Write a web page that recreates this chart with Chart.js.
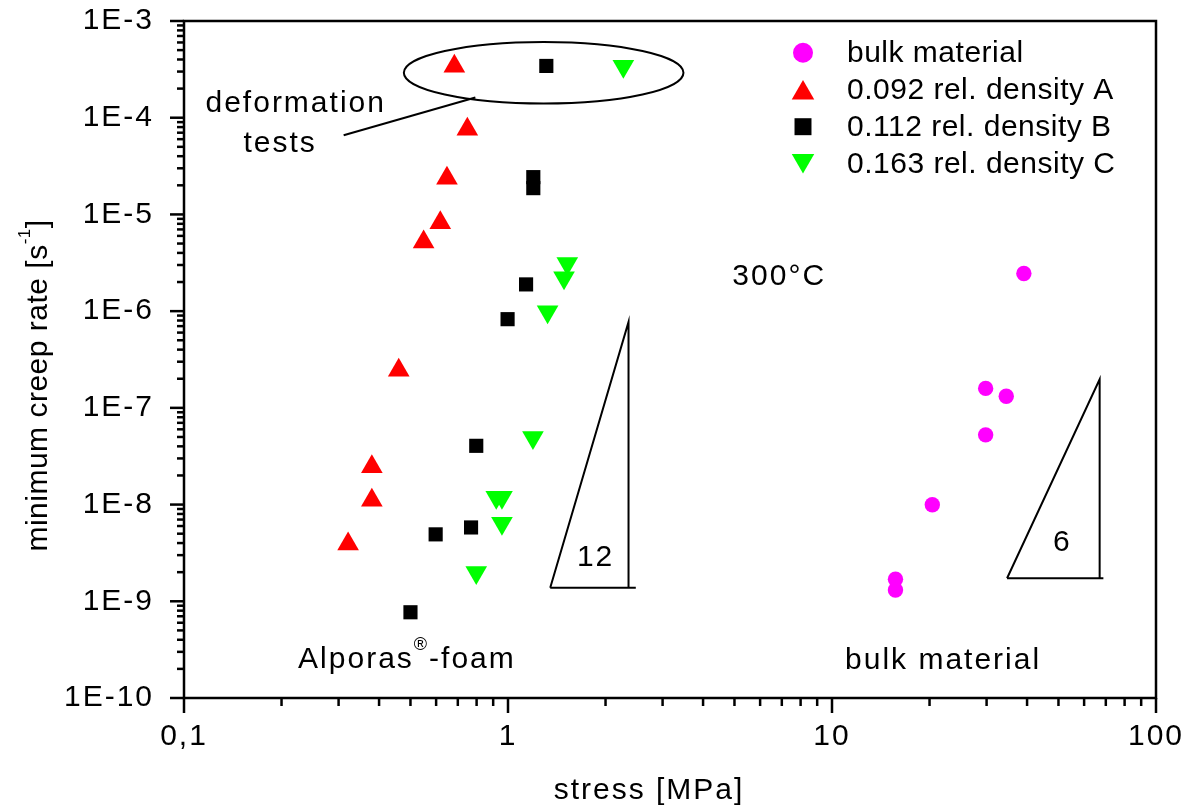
<!DOCTYPE html>
<html>
<head>
<meta charset="utf-8">
<script src="https://cdn.jsdelivr.net/npm/chart.js@4.4.1/dist/chart.umd.min.js"></script>
<style>
    html, body { margin: 0; padding: 0; background: #fff; }
    #wrap { width: 1189px; height: 807px; position: relative; }
</style>
</head>
<body>
<div id="wrap"><canvas id="creep-chart"></canvas></div>
<script>
/* Minimum creep rate vs. stress, Alporas foam and bulk material at 300°C */

// stress [MPa] / minimum creep rate [1/s]
const bulkStress = [39.1, 29.8, 34.5, 29.8, 20.4, 15.7, 15.7];
const bulkRate = [2.45e-6, 1.59e-7, 1.32e-7, 5.26e-8, 9.95e-9, 1.69e-9, 1.31e-9];

const foamAStress = [0.683, 0.749, 0.648, 0.618, 0.549, 0.460, 0.380, 0.380, 0.321];
const foamARate = [3.40e-4, 7.6e-5, 2.37e-5, 8.2e-6, 5.2e-6, 2.45e-7, 2.46e-8, 1.11e-8, 3.9e-9];

const foamBStress = [1.313, 1.197, 1.197, 1.137, 0.997, 0.798, 0.769, 0.598, 0.500];
const foamBRate = [3.43e-4, 2.43e-5, 1.87e-5, 1.89e-6, 8.26e-7, 4.05e-8, 5.8e-9, 4.92e-9, 7.7e-10];

const foamCStress = [2.27, 1.524, 1.489, 1.325, 1.194, 0.920, 0.958, 0.958, 0.798];
const foamCRate = [3.40e-4, 3.11e-6, 2.21e-6, 9.84e-7, 4.95e-8, 1.19e-8, 1.19e-8, 6.4e-9, 1.99e-9];

const seriesLabels = ['bulk material', '0.092 rel. density A', '0.112 rel. density B', '0.163 rel. density C'];

const xTickValues = [0.1, 1, 10, 100];
const xTickLabels = ['0,1', '1', '10', '100'];
const yTickValues = [1e-10, 1e-9, 1e-8, 1e-7, 1e-6, 1e-5, 1e-4, 1e-3];
const yTickLabels = ['1E-10', '1E-9', '1E-8', '1E-7', '1E-6', '1E-5', '1E-4', '1E-3'];

const FONT = '"Liberation Sans", Arial, sans-serif';

function toPoints(xs, ys) {
    return xs.map((x, i) => ({ x: x, y: ys[i] }));
}

// decades are major ticks, 2..9 in between are minor ticks
function logTicks(decades) {
    const out = [];
    decades.forEach((d, i) => {
        out.push({ value: d, major: true });
        if (i < decades.length - 1) {
            for (let k = 2; k <= 9; k++) out.push({ value: d * k, major: false });
        }
    });
    return out;
}

function labelFor(values, labels) {
    return function (value) {
        const i = values.findIndex(v => Math.abs(v - value) / v < 1e-6);
        return i >= 0 ? labels[i] : '';
    };
}

// text with raised parts, e.g. superscripts
function drawRich(ctx, parts, x, y) {
    let cx = x;
    parts.forEach(p => {
        ctx.font = p.size + 'px ' + FONT;
        ctx.fillText(p.text, cx, y - (p.rise || 0));
        cx += ctx.measureText(p.text).width;
    });
}

function richWidth(ctx, parts) {
    let w = 0;
    parts.forEach(p => {
        ctx.font = p.size + 'px ' + FONT;
        w += ctx.measureText(p.text).width;
    });
    return w;
}

const framePlugin = {
    id: 'frameAndNotes',
    beforeDraw(chart) {
        chart.ctx.letterSpacing = '2px';
    },
    afterDraw(chart) {
        const ctx = chart.ctx;
        const area = chart.chartArea;
        const xs = chart.scales.x, ys = chart.scales.y;
        const px = v => xs.getPixelForValue(v);
        const py = v => ys.getPixelForValue(v);

        ctx.save();
        ctx.strokeStyle = '#000';
        ctx.fillStyle = '#000';
        ctx.lineCap = 'butt';

        // tick marks
        ctx.lineWidth = 2.5;
        xs.ticks.forEach(t => {
            const p = px(t.value);
            ctx.beginPath();
            ctx.moveTo(p, area.bottom);
            ctx.lineTo(p, area.bottom + (t.major ? 15 : 8));
            ctx.stroke();
        });
        ys.ticks.forEach(t => {
            const p = py(t.value);
            ctx.beginPath();
            ctx.moveTo(area.left, p);
            ctx.lineTo(area.left - (t.major ? 14 : 7), p);
            ctx.stroke();
        });

        // frame
        ctx.strokeRect(area.left, area.top, area.right - area.left, area.bottom - area.top);

        // deformation tests ellipse and pointer
        ctx.lineWidth = 2;
        const ex1 = px(0.477), ex2 = px(3.48), ey1 = py(6.07e-4), ey2 = py(1.40e-4);
        ctx.beginPath();
        ctx.ellipse((ex1 + ex2) / 2, (ey1 + ey2) / 2, (ex2 - ex1) / 2, (ey2 - ey1) / 2, 0, 0, 2 * Math.PI);
        ctx.stroke();
        ctx.beginPath();
        ctx.moveTo(px(0.793), py(1.62e-4));
        ctx.lineTo(px(0.311), py(6.59e-5));
        ctx.stroke();

        // slope triangles (n = 12 and n = 6)
        function slopeTriangle(xLeft, xApex, xRight, yBase, yApex) {
            ctx.beginPath();
            ctx.moveTo(px(xLeft), py(yBase));
            ctx.lineTo(px(xApex), py(yApex));
            ctx.lineTo(px(xApex), py(yBase));
            ctx.stroke();
            ctx.beginPath();
            ctx.moveTo(px(xLeft), py(yBase));
            ctx.lineTo(px(xRight), py(yBase));
            ctx.stroke();
        }
        slopeTriangle(1.35, 2.355, 2.48, 1.38e-9, 7.74e-7);
        slopeTriangle(34.7, 67.0, 68.8, 1.73e-9, 1.97e-7);

        // notes inside the plot
        ctx.letterSpacing = '2px';
        ctx.textAlign = 'left';
        ctx.textBaseline = 'alphabetic';
        ctx.font = '30px ' + FONT;
        ctx.fillText('deformation', px(0.1165), py(1.147e-4));
        ctx.fillText('tests', px(0.1526), py(4.43e-5));
        ctx.fillText('300°C', px(4.925), py(1.855e-6));
        ctx.fillText('bulk material', px(10.97), py(1.98e-10));
        ctx.fillText('12', px(1.632), py(2.31e-9));
        ctx.fillText('6', px(48.1), py(3.33e-9));
        drawRich(ctx, [
            { text: 'Alporas', size: 30 },
            { text: '®', size: 18, rise: 18 },
            { text: '-foam', size: 30 }
        ], px(0.225), py(2.03e-10));

        // axis titles
        ctx.letterSpacing = '2px';
        ctx.font = '30px ' + FONT;
        ctx.textAlign = 'center';
        ctx.fillText('stress [MPa]', (area.left + area.right) / 2 - 21, 799);

        ctx.textAlign = 'left';
        ctx.letterSpacing = '0.5px';
        const yTitle = [
            { text: 'minimum creep rate [s', size: 30 },
            { text: '-1', size: 17, rise: 17 },
            { text: ']', size: 30 }
        ];
        const yMid = (area.top + area.bottom) / 2 + 26;
        const tw = richWidth(ctx, yTitle);
        ctx.save();
        ctx.translate(47, yMid + tw / 2);
        ctx.rotate(-Math.PI / 2);
        drawRich(ctx, yTitle, 0, 0);
        ctx.restore();

        // legend, upper right inside the frame
        ctx.letterSpacing = '0.5px';
        ctx.font = '30px ' + FONT;
        const lx = area.right - 353;
        const tx = area.right - 309;
        chart.data.datasets.forEach((ds, i) => {
            const base = 61.7 + 37 * i;
            const style = ds.pointStyle;
            const rot = ds.pointRotation || 0;
            let r = style === 'circle' ? 10 : (style === 'rect' ? 12 : 13);
            let yc = base - 9;
            if (style === 'triangle') yc += rot ? -r * 0.25 : r * 0.25;
            ctx.fillStyle = ds.pointBackgroundColor;
            Chart.helpers.drawPoint(ctx, { pointStyle: style, rotation: rot, radius: r, borderWidth: 0 }, lx, yc);
            ctx.fillStyle = '#000';
            ctx.fillText(ds.label, tx, base);
        });

        ctx.restore();
    }
};

const ctx = document.getElementById('creep-chart').getContext('2d');
const chart = new Chart(ctx, {
    type: 'scatter',
    data: {
        datasets: [{
            label: seriesLabels[0],
            data: toPoints(bulkStress, bulkRate),
            pointStyle: 'circle',
            pointRadius: 7.7,
            pointBackgroundColor: '#ff00ff',
            pointBorderWidth: 0,
        }, {
            label: seriesLabels[1],
            data: toPoints(foamAStress, foamARate),
            pointStyle: 'triangle',
            pointRadius: 12.5,
            pointBackgroundColor: '#ff0000',
            pointBorderWidth: 0,
        }, {
            label: seriesLabels[2],
            data: toPoints(foamBStress, foamBRate),
            pointStyle: 'rect',
            pointRadius: 10,
            pointBackgroundColor: '#000000',
            pointBorderWidth: 0,
        }, {
            label: seriesLabels[3],
            data: toPoints(foamCStress, foamCRate),
            pointStyle: 'triangle',
            pointRotation: 180,
            pointRadius: 12.5,
            pointBackgroundColor: '#00ff00',
            pointBorderWidth: 0,
        }]
    },
    options: {
        responsive: true,
        maintainAspectRatio: false,
        animation: false,
        events: [],
        layout: { padding: { top: 21, right: 33, left: 0, bottom: 0 } },
        scales: {
            x: {
                type: 'logarithmic',
                position: 'bottom',
                min: 0.1,
                max: 100,
                grid: { display: false, drawTicks: false },
                border: { display: false },
                afterBuildTicks: s => { s.ticks = logTicks(xTickValues); },
                afterFit: s => { s.height = 109; s.paddingLeft = 0; s.paddingRight = 0; },
                ticks: {
                    autoSkip: false,
                    maxRotation: 0,
                    padding: 21,
                    color: '#000',
                    font: { family: FONT, size: 30 },
                    callback: labelFor(xTickValues, xTickLabels)
                }
            },
            y: {
                type: 'logarithmic',
                position: 'left',
                min: 1e-10,
                max: 1e-3,
                grid: { display: false, drawTicks: false },
                border: { display: false },
                afterBuildTicks: s => { s.ticks = logTicks(yTickValues); },
                afterFit: s => { s.width = 184; s.paddingTop = 0; s.paddingBottom = 0; },
                ticks: {
                    autoSkip: false,
                    padding: 30,
                    color: '#000',
                    font: { family: FONT, size: 30 },
                    callback: labelFor(yTickValues, yTickLabels)
                }
            }
        },
        plugins: {
            legend: { display: false },
            tooltip: { enabled: false }
        }
    },
    plugins: [framePlugin]
});
</script>
</body>
</html>
